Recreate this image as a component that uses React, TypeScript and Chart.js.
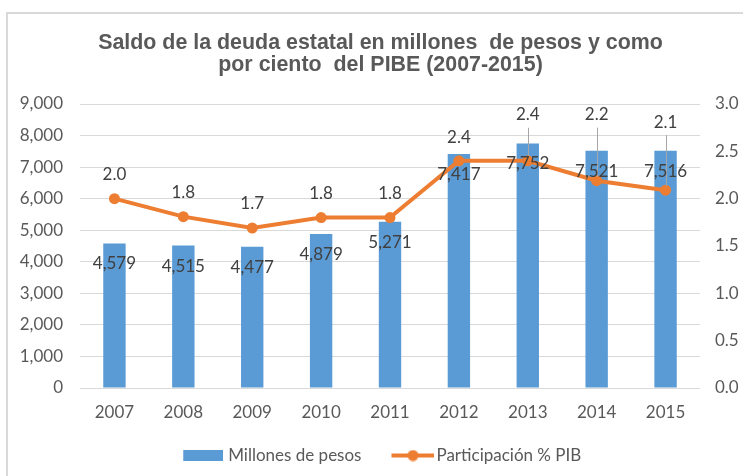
import React, { useEffect, useRef } from 'react';
import { Chart, registerables } from 'chart.js';

Chart.register(...registerables);

// ---- data ----
const years = ['2007', '2008', '2009', '2010', '2011', '2012', '2013', '2014', '2015'];
const millonesDePesos = [4579, 4515, 4477, 4879, 5271, 7417, 7752, 7521, 7516];
const participacionPIB = [2.0, 1.81, 1.69, 1.8, 1.8, 2.4, 2.4, 2.19, 2.09];
const leftAxisMax = 9000;
const leftAxisStep = 1000;
const rightAxisMax = 3.0;
const rightAxisStep = 0.5;
const titleLines = ['Saldo de la deuda estatal en millones  de pesos y como', 'por ciento  del PIBE (2007-2015)'];
const seriesNames = ['Millones de pesos', 'Participación % PIB'];

// ---- style ----
const BAR_COLOR = '#5B9BD5';
const LINE_COLOR = '#ED7D31';
const TEXT_COLOR = '#595959';
const LABEL_COLOR = '#404040';
const GRID_COLOR = '#D9D9D9';
const FONT = 'Lato, "Open Sans", sans-serif';
const TITLE_FONT = '"Liberation Sans", Arial, sans-serif';
const lineLabelLift = [24, 24, 24, 24, 24, 23, 46, 66, 68];
const barLabelDrop = 20.5;

function makeBarIcon() {
  const c = document.createElement('canvas');
  c.width = 47;
  c.height = 11;
  const ctx = c.getContext('2d')!;
  ctx.fillStyle = BAR_COLOR;
  ctx.fillRect(7, 0, 40, 11);
  return c;
}

function makeLineIcon() {
  const c = document.createElement('canvas');
  c.width = 53;
  c.height = 12;
  const ctx = c.getContext('2d')!;
  ctx.strokeStyle = LINE_COLOR;
  ctx.lineWidth = 4;
  ctx.beginPath();
  ctx.moveTo(10, 6);
  ctx.lineTo(53, 6);
  ctx.stroke();
  ctx.fillStyle = LINE_COLOR;
  ctx.beginPath();
  ctx.arc(31.5, 6, 5.5, 0, Math.PI * 2);
  ctx.fill();
  return c;
}

const labelsPlugin = {
  id: 'valueLabels',
  afterDatasetsDraw(chart: any) {
    const ctx = chart.ctx;
    ctx.save();
    ctx.font = `17px ${FONT}`;
    ctx.textAlign = 'center';
    ctx.textBaseline = 'middle';
    const lineMeta = chart.getDatasetMeta(1);
    // leader lines
    ctx.strokeStyle = '#A6A6A6';
    ctx.lineWidth = 1;
    lineMeta.data.forEach((el: any, i: number) => {
      const lift = lineLabelLift[i];
      if (lift > 35) {
        ctx.beginPath();
        ctx.moveTo(Math.round(el.x) + 0.5, el.y - lift + 13);
        ctx.lineTo(Math.round(el.x) + 0.5, el.y - 4);
        ctx.stroke();
      }
    });
    // bar labels
    ctx.fillStyle = LABEL_COLOR;
    const barMeta = chart.getDatasetMeta(0);
    barMeta.data.forEach((el: any, i: number) => {
      ctx.fillText(millonesDePesos[i].toLocaleString('en-US'), el.x, el.y + barLabelDrop);
    });
    // line labels
    lineMeta.data.forEach((el: any, i: number) => {
      ctx.fillText(participacionPIB[i].toFixed(1), el.x, el.y - lineLabelLift[i]);
    });
    ctx.restore();
  },
};

export default function App() {
  const canvasRef = useRef<HTMLCanvasElement | null>(null);

  useEffect(() => {
    const canvas = canvasRef.current;
    if (!canvas) return;
    const barIcon = makeBarIcon();
    const lineIcon = makeLineIcon();
    const chart = new Chart(canvas, {
      type: 'bar',
      data: {
        labels: years,
        datasets: [
          {
            type: 'bar',
            label: seriesNames[0],
            data: millonesDePesos,
            backgroundColor: BAR_COLOR,
            borderWidth: 0,
            barPercentage: 0.325,
            categoryPercentage: 1,
            yAxisID: 'y',
            order: 1,
          },
          {
            type: 'line',
            label: seriesNames[1],
            data: participacionPIB,
            borderColor: LINE_COLOR,
            backgroundColor: LINE_COLOR,
            borderWidth: 4,
            pointRadius: 5.5,
            pointBorderWidth: 0,
            pointBackgroundColor: LINE_COLOR,
            tension: 0,
            yAxisID: 'y1',
            order: 0,
          },
        ],
      } as any,
      options: {
        responsive: false,
        animation: false,
        devicePixelRatio: 1,
        layout: { padding: { left: 18, right: 0, top: 0, bottom: 2 } },
        plugins: {
          tooltip: { enabled: false },
          title: {
            display: true,
            text: titleLines,
            color: TEXT_COLOR,
            font: { family: TITLE_FONT, size: 21.4, weight: 'bold', lineHeight: '22px' },
            padding: { top: 32, bottom: 28 },
          },
          legend: {
            display: true,
            position: 'bottom',
            labels: {
              usePointStyle: true,
              pointStyleWidth: 40,
              boxHeight: 11,
              padding: 26.5,
              color: TEXT_COLOR,
              font: { family: FONT, size: 17 },
              generateLabels: () => [
                { text: seriesNames[0], pointStyle: barIcon, fillStyle: BAR_COLOR, strokeStyle: BAR_COLOR, lineWidth: 0, hidden: false, datasetIndex: 0, fontColor: TEXT_COLOR },
                { text: seriesNames[1], pointStyle: lineIcon, fillStyle: LINE_COLOR, strokeStyle: LINE_COLOR, lineWidth: 0, hidden: false, datasetIndex: 1, fontColor: TEXT_COLOR },
              ],
            },
          },
        },
        scales: {
          x: {
            grid: { display: false, drawTicks: false },
            border: { display: false },
            ticks: { color: TEXT_COLOR, font: { family: FONT, size: 17 }, padding: 14 },
            afterFit: (s: any) => { s.height = 32.5; },
          },
          y: {
            position: 'left',
            min: 0,
            max: leftAxisMax,
            grid: { color: GRID_COLOR, drawTicks: false, lineWidth: 1 },
            border: { display: false },
            ticks: {
              stepSize: leftAxisStep,
              color: TEXT_COLOR,
              font: { family: FONT, size: 17 },
              padding: 17,
              callback: (v: any) => Number(v).toLocaleString('en-US'),
            },
            afterFit: (s: any) => { s.width = 62; },
          },
          y1: {
            position: 'right',
            min: 0,
            max: rightAxisMax,
            grid: { display: false, drawTicks: false },
            border: { display: false },
            ticks: {
              stepSize: rightAxisStep,
              color: TEXT_COLOR,
              font: { family: FONT, size: 17 },
              padding: 15,
              callback: (v: any) => Number(v).toFixed(1),
            },
            afterFit: (s: any) => { s.width = 43; },
          },
        },
      } as any,
      plugins: [labelsPlugin],
    });
    return () => chart.destroy();
  }, []);

  return (
    <div style={{ position: 'absolute', left: 0, top: 0, width: 743, height: 476, overflow: 'hidden', background: '#fff' }}>
      <div
        style={{
          position: 'absolute',
          left: 6,
          top: 12,
          width: 800,
          height: 600,
          borderLeft: '2px solid #D9D9D9',
          borderTop: '2px solid #D9D9D9',
          boxSizing: 'border-box',
        }}
      />
      <canvas ref={canvasRef} width={743} height={476} style={{ position: 'absolute', left: 0, top: 0, width: 743, height: 476 }} />
    </div>
  );
}
